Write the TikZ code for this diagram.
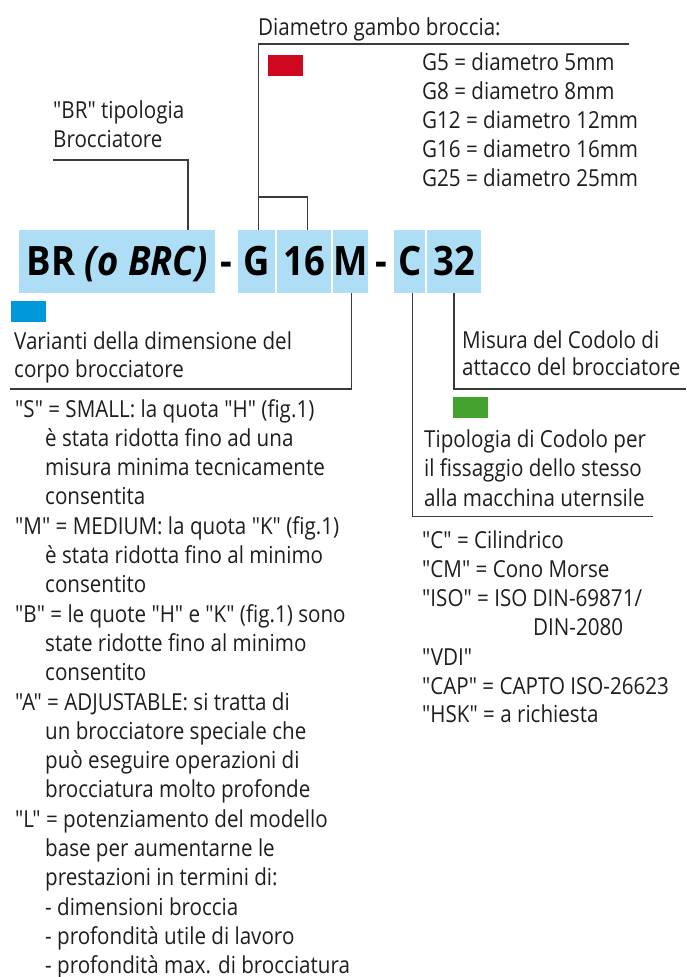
\documentclass[tikz,border=0pt]{standalone}
\usepackage{fontspec}
\setmainfont{Open Sans}[FakeStretch=0.88, Ligatures=TeXOff]
\newfontfamily\bigfont{Open Sans}[FakeStretch=0.9, Ligatures=TeXOff]
\usetikzlibrary{calc}
\definecolor{codeblue}{HTML}{AEDEF5}
\definecolor{swred}{HTML}{D0081F}
\definecolor{swblue}{HTML}{0098DA}
\definecolor{swgreen}{HTML}{43A22E}
\definecolor{linec}{HTML}{3A3A3A}
\definecolor{textc}{HTML}{1E1E1E}
\tikzset{
  txt/.style={anchor=base west, inner sep=0pt, font=\fontsize{23.4}{29}\selectfont, text=textc},
  link/.style={draw=linec, line width=1.3pt},
  codebox/.style={fill=codeblue, inner sep=0pt, anchor=north west, minimum height=62.7},
  bigtxt/.style={anchor=base, inner sep=0pt, font=\bigfont\bfseries\fontsize{40.5}{40}\selectfont, text=black},
  swatch/.style={inner sep=0pt, anchor=north west, minimum width=35, minimum height=21}
}
\begin{document}
\begin{tikzpicture}[x=1pt,y=-1pt]
\useasboundingbox (0,0) rectangle (686,977);
% code boxes
\node[codebox, minimum width=196] (brbox) at (19,230) {};
\node[codebox, minimum width=37] (gbox) at (238,230) {};
\node[codebox, minimum width=53.7] (box16) at (277,230) {};
\node[codebox, minimum width=35] (mbox) at (333,230) {};
\node[codebox, minimum width=31] (cbox) at (394,230) {};
\node[codebox, minimum width=53.7] (box32) at (427,230) {};
\path (brbox.south) ++(0,-17.3) node[bigtxt] (brtxt) {BR \textit{(o BRC)}};
\path (gbox.south) ++(0,-17.3) node[bigtxt] (gtxt) {G};
\path (box16.south) ++(0,-17.3) node[bigtxt] (t16) {16};
\path (mbox.south) ++(0,-17.3) node[bigtxt] (mtxt) {M};
\path (cbox.south) ++(0,-17.3) node[bigtxt] (ctxt) {C};
\path (box32.south) ++(0,-17.3) node[bigtxt] (t32) {32};
\node[bigtxt] (dash1) at (226.5,275.7) {-};
\node[bigtxt] (dash2) at (381.5,275.7) {-};
% swatches
\node[swatch, fill=swred] (red) at (268,55) {};
\node[swatch, fill=swblue] (blue) at (11,301) {};
\node[swatch, fill=swgreen] (green) at (453,397) {};
% top labels
\node[txt] (diam) at (258,35) {Diametro gambo broccia:};
\node[txt] (g5) at (422,70) {G5 = diametro 5mm};
\node[txt] (g8) at (422,99.2) {G8 = diametro 8mm};
\node[txt] (g12) at (422,128.4) {G12 = diametro 12mm};
\node[txt] (g16) at (422,157.6) {G16 = diametro 16mm};
\node[txt] (g25) at (422,186.8) {G25 = diametro 25mm};
\node[txt] (brl1) at (53,118) {"BR" tipologia};
\node[txt] (brl2) at (53,147) {Brocciatore};
% connectors top
\coordinate (diamend) at (629,44);
\draw[link] (diamend) -| ($(gbox.north)+(1.5,0)$);
\coordinate (brlend) at (53,160);
\draw[link] (brlend) -| ($(brbox.north west)+(169,0)$);
\draw[link] ($(gbox.north)+(1.5,-33)$) -| ($(box16.north)+(3.5,0)$);
% lower connectors
\coordinate (varend) at (10,389);
\draw[link] ($(mbox.south)+(0.7,0)$) |- (varend);
\coordinate (tipend) at (653,516.7);
\draw[link] ($(cbox.south)+(2.5,0)$) |- (tipend);
\coordinate (misend) at (686,389);
\draw[link] (box32.south) |- (misend);
% middle labels
\node[txt] (var1) at (14,349) {Varianti della dimensione del};
\node[txt] (var2) at (14,377.5) {corpo brocciatore};
\node[txt] (mis1) at (462,348) {Misura del Codolo di};
\node[txt] (mis2) at (462,375.5) {attacco del brocciatore};
\node[txt] (tip1) at (424,447.3) {Tipologia di Codolo per};
\node[txt] (tip2) at (424,476.7) {il fissaggio dello stesso};
\node[txt] (tip3) at (424,506.2) {alla macchina uternsile};
% left list
\foreach \xx/\tt [count=\i] in {
  15/{"S" = SMALL: la quota "H" (fig.1)},
  45/{è stata ridotta fino ad una},
  45/{misura minima tecnicamente},
  45/{consentita},
  15/{"M" = MEDIUM: la quota "K" (fig.1)},
  45/{è stata ridotta fino al minimo},
  45/{consentito},
  15/{"B" = le quote "H" e "K" (fig.1) sono},
  45/{state ridotte fino al minimo},
  45/{consentito},
  15/{"A" = ADJUSTABLE: si tratta di},
  45/{un brocciatore speciale che},
  45/{può eseguire operazioni di},
  45/{brocciatura molto profonde},
  15/{"L" = potenziamento del modello},
  45/{base per aumentarne le},
  45/{prestazioni in termini di:},
  45/{- dimensioni broccia},
  45/{- profondità utile di lavoro},
  45/{- profondità max. di brocciatura}}
  \node[txt] (left\i) at (\xx,{417+(\i-1)*29.3}) {\tt};
% right list
\node[txt] (r1) at (422,548) {"C" = Cilindrico};
\node[txt] (r2) at (422,577) {"CM" = Cono Morse};
\node[txt] (r3) at (422,606) {"ISO" = ISO DIN-69871/};
\node[txt] (r4) at (533,635.5) {DIN-2080};
\node[txt] (r5) at (422,665) {"VDI"};
\node[txt] (r6) at (422,694) {"CAP" = CAPTO ISO-26623};
\node[txt] (r7) at (422,722.5) {"HSK" = a richiesta};
\end{tikzpicture}
\end{document}
